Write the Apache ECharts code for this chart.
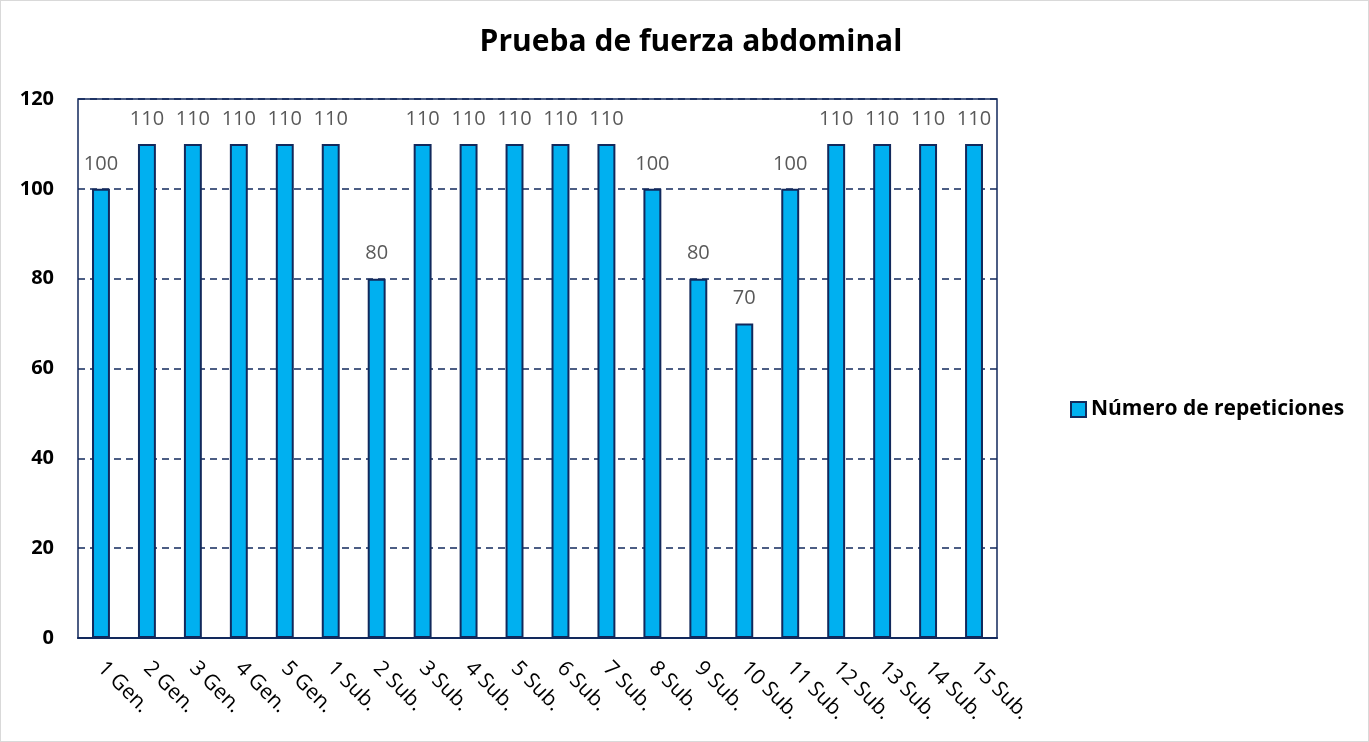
<!DOCTYPE html>
<html>
<head>
<meta charset="utf-8">
<script src="https://cdn.jsdelivr.net/npm/echarts@6/dist/echarts.min.js"></script>
<style>
    html, body { margin: 0; padding: 0; background: #fff; }
    #main { width: 1367px; height: 740px; border: 1px solid #d9d9d9; }
</style>
</head>
<body>
<div id="main"></div>
<script>
// categorias y valores
const categories = ['1 Gen.', '2 Gen.', '3 Gen.', '4 Gen.', '5 Gen.', '1 Sub.', '2 Sub.', '3 Sub.', '4 Sub.', '5 Sub.',
    '6 Sub.', '7 Sub.', '8 Sub.', '9 Sub.', '10 Sub.', '11 Sub.', '12 Sub.', '13 Sub.', '14 Sub.', '15 Sub.'];
const repeticiones = [100, 110, 110, 110, 110, 110, 80, 110, 110, 110, 110, 110, 100, 80, 70, 100, 110, 110, 110, 110];
const seriesName = 'Número de repeticiones';
const yTicks = [0, 20, 40, 60, 80, 100, 120];

const font = '"Open Sans", sans-serif';
const navy = '#12295C';

let chart = echarts.init(document.getElementById('main'));

chart.setOption({
    animation: false,
    textStyle: { fontFamily: font },
    title: {
        text: 'Prueba de fuerza abdominal',
        left: 685,
        top: 21,
        textAlign: 'center',
        textStyle: { fontSize: 30, fontWeight: 'bold', color: '#000', fontFamily: font }
    },
    legend: {
        orient: 'vertical',
        left: 1064,
        top: 393,
        itemWidth: 15,
        itemHeight: 15,
        icon: 'rect',
        textStyle: { fontSize: 21, fontWeight: 'bold', color: '#000', fontFamily: font },
        data: [seriesName]
    },
    grid: {
        left: 77,
        right: 371,
        top: 98,
        bottom: 103,
        show: true,
        borderColor: navy,
        borderWidth: 1.5,
        containLabel: false
    },
    //x轴
    xAxis: {
        type: 'category',
        data: categories,
        axisTick: { show: false },
        axisLine: { show: true, lineStyle: { color: navy, width: 2 } },
        axisLabel: {
            interval: 0,
            rotate: -45,
            margin: 27,
            fontSize: 21,
            color: '#000',
            fontFamily: font
        }
    },
    //y轴
    yAxis: {
        type: 'value',
        min: yTicks[0],
        max: yTicks[yTicks.length - 1],
        interval: 20,
        axisLine: { show: false },
        axisTick: { show: false },
        axisLabel: {
            margin: 24,
            fontSize: 20,
            fontWeight: 'bold',
            color: '#000',
            fontFamily: font
        },
        splitLine: {
            show: true,
            lineStyle: { color: navy, type: [7, 5], width: 1.5 }
        }
    },
    series: [{
        type: 'bar',
        name: seriesName,
        data: repeticiones,
        barWidth: '39%',
        itemStyle: {
            color: '#00B0F0',
            borderColor: navy,
            borderWidth: 2
        },
        label: {
            show: true,
            position: 'top',
            distance: 15,
            fontSize: 20,
            color: '#595959',
            fontFamily: font
        }
    }]
});
</script>
</body>
</html>
